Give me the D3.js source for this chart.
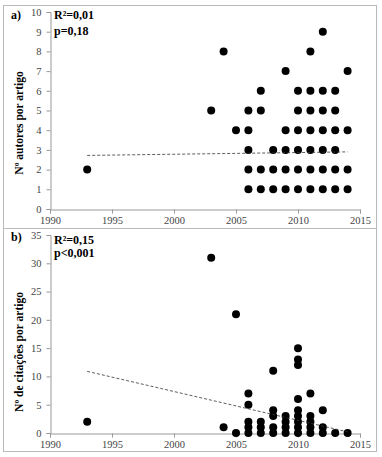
<!DOCTYPE html>
<html><head><meta charset="utf-8">
<script src="https://d3js.org/d3.v7.min.js"></script>
<style>body{margin:0;background:#fff}svg{display:block}
svg text{font-family:"Liberation Serif","Times New Roman","DejaVu Serif",serif !important;}</style>
</head><body>
<script>
// Panel a) authors per article
const authorYears = [1993,2003,2004,2005,2006,2007,2008,2009,2010,2011,2012,2013,2014];
const authorValues = [
  [2],[5],[8],[4],[1,2,3,4,5],[1,2,5,6],[1,2,3],[1,2,3,4,7],
  [1,2,3,4,5,6],[1,2,3,4,5,6,8],[1,2,3,4,5,6,9],[1,2,3,4,5,6],[1,2,4,7]
];
const authorTrend = [[1993,2.72],[2014,2.9]];
const authorTicksY = [0,1,2,3,4,5,6,7,8,9,10];
// Panel b) citations per article
const citeYears = [1993,2003,2004,2005,2006,2007,2008,2009,2010,2011,2012,2013,2014];
const citeValues = [
  [2],[31],[1],[21,0],[0,1,2,5,7],[0,1,2],[0,1,3,4,11],[0,1,2,3],
  [0,1,2,3,4,6,12,13,15],[0,1,2,3,7],[0,1,4],[0],[0]
];
const citeTrend = [[1993,10.9],[2014,0.2]];
const citeTicksY = [0,5,10,15,20,25,30,35];
const xTicks = [1990,1995,2000,2005,2010,2015];

const W=382,H=457;
const svg=d3.select("body").append("svg").attr("width",W).attr("height",H);
const serif='"Liberation Serif","Times New Roman","DejaVu Serif",serif';

// frame
svg.append("rect").attr("x",3.5).attr("y",5.5).attr("width",373).attr("height",446)
  .attr("fill","none").attr("stroke","#bbb").attr("stroke-width",1);
svg.append("line").attr("x1",3.5).attr("x2",376.5).attr("y1",228.5).attr("y2",228.5)
  .attr("stroke","#bbb");

function panel(cfg){
  const x=d3.scaleLinear().domain([1990,2015]).range([50,360]);
  const y=d3.scaleLinear().domain([0,cfg.ymax]).range([cfg.y0,cfg.y1]);
  const g=svg.append("g");
  const ya=g.append("g").attr("transform","translate(50.5,0)")
    .call(d3.axisLeft(y).tickValues(cfg.ticksY).tickSize(4).tickPadding(5).tickFormat(d3.format("d")));
  const xa=g.append("g").attr("transform",`translate(0,${cfg.y0+0.5})`)
    .call(d3.axisBottom(x).tickValues(xTicks).tickSize(4).tickPadding(3).tickFormat(d3.format("d")));
  [ya,xa].forEach(a=>{
    a.attr("font-family",serif);
    a.select(".domain").attr("stroke","#999");
    a.selectAll(".tick line").attr("stroke","#999");
    a.selectAll("text").attr("font-size",10.5).attr("fill","#444");
  });
  const pts=[];
  cfg.years.forEach((yr,i)=>cfg.values[i].forEach(v=>pts.push([yr,v])));
  g.selectAll("circle").data(pts).enter().append("circle")
    .attr("cx",d=>x(d[0])).attr("cy",d=>y(d[1])).attr("r",4).attr("fill","#000");
  g.append("path").attr("d",d3.line().x(d=>x(d[0])).y(d=>y(d[1]))(cfg.trend))
    .attr("stroke","#333").attr("stroke-width",0.8).attr("stroke-dasharray","3,2").attr("fill","none");
  g.append("text").attr("x",11).attr("y",cfg.labY).attr("font-weight","bold")
    .attr("font-size",12).text(cfg.lab);
  g.append("text").attr("x",54).attr("y",cfg.r2Y).attr("font-weight","bold")
    .attr("font-size",12).text(cfg.r2);
  g.append("text").attr("x",54).attr("y",cfg.pY).attr("font-weight","bold")
    .attr("font-size",12).text(cfg.p);
  g.append("text").attr("transform",`translate(23,${cfg.titleY}) rotate(-90)`).attr("text-anchor","middle")
    .attr("font-weight","bold").attr("font-size",11.5).text(cfg.title);
}
panel({ymax:10,y0:209,y1:12,ticksY:authorTicksY,years:authorYears,values:authorValues,trend:authorTrend,
  lab:"a)",labY:19,r2:"R²=0,01",r2Y:19,p:"p=0,18",pY:35,title:"Nº autores por artigo",titleY:123});
panel({ymax:35,y0:433,y1:235,ticksY:citeTicksY,years:citeYears,values:citeValues,trend:citeTrend,
  lab:"b)",labY:241,r2:"R²=0,15",r2Y:244,p:"p<0,001",pY:257,title:"Nº de citações por artigo",titleY:352});
</script>
</body></html>
